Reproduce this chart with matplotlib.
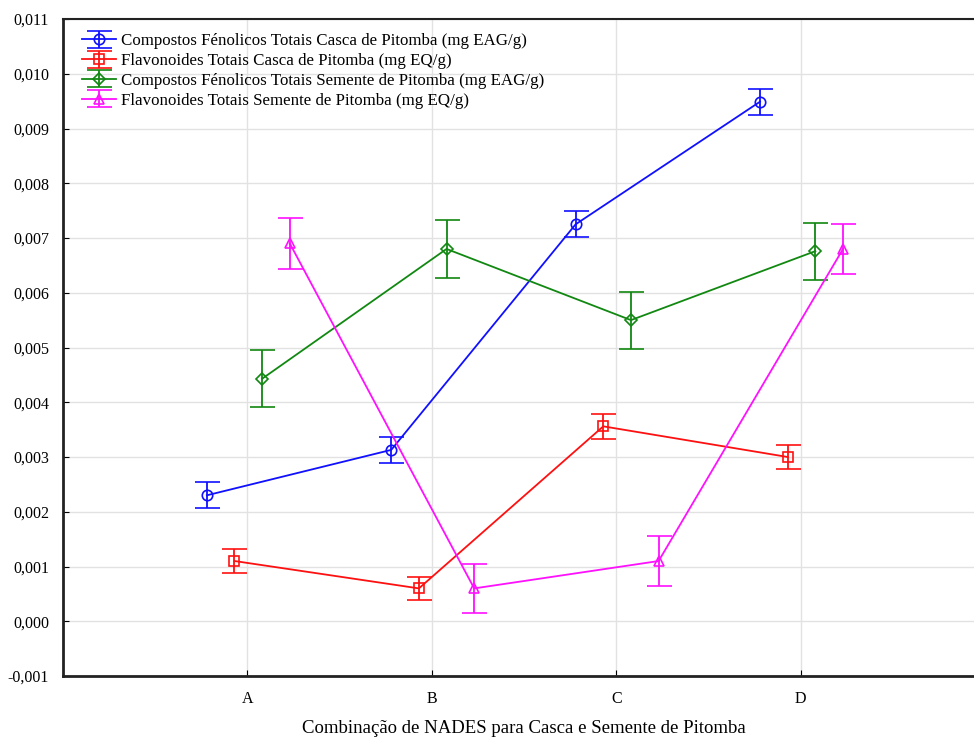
import numpy as np
import matplotlib
matplotlib.use("Agg")
from matplotlib import pyplot as plt
from matplotlib.ticker import FuncFormatter, MultipleLocator

plt.rcParams['font.family'] = ['Liberation Serif', 'DejaVu Serif']

categorias = ['A', 'B', 'C', 'D']

# valores médios e desvios
fen_casca = [0.00230, 0.00313, 0.00725, 0.00949]
fen_casca_err = [0.00024, 0.00024, 0.00024, 0.00024]
flav_casca = [0.00110, 0.00060, 0.00356, 0.00300]
flav_casca_err = [0.00022, 0.00021, 0.00023, 0.00022]
fen_semente = [0.00443, 0.00680, 0.00550, 0.00676]
fen_semente_err = [0.00052, 0.00053, 0.00052, 0.00052]
flav_semente = [0.00690, 0.00060, 0.00110, 0.00680]
flav_semente_err = [0.00046, 0.00045, 0.00045, 0.00046]

nomes = ['Compostos Fénolicos Totais Casca de Pitomba (mg EAG/g)',
         'Flavonoides Totais Casca de Pitomba (mg EQ/g)',
         'Compostos Fénolicos Totais Semente de Pitomba (mg EAG/g)',
         'Flavonoides Totais Semente de Pitomba (mg EQ/g)']
series = [fen_casca, flav_casca, fen_semente, flav_semente]
erros = [fen_casca_err, flav_casca_err, fen_semente_err, flav_semente_err]
cores = ['#1010ff', '#ff1010', '#118811', '#ff10ff']
marcadores = ['o', 's', 'D', '^']
tamanhos = [7.5, 7, 6, 7.5]
deslocamentos = [-0.22, -0.07, 0.08, 0.23]

fig = plt.figure(figsize=(9.74, 7.38), dpi=100)
ax = fig.add_axes([63 / 974, 1 - 676 / 738, (985 - 63) / 974, (676 - 19) / 738])

x = np.arange(1, len(categorias) + 1)
for y, e, c, m, s, d, n in zip(series, erros, cores, marcadores, tamanhos, deslocamentos, nomes):
    ax.errorbar(x + d, y, yerr=e, color=c, marker=m, markersize=s, markerfacecolor='none',
                markeredgewidth=1.2, linewidth=1.3, elinewidth=1.3, capsize=9, capthick=1.3,
                label=n)

ax.set_xlim(0, 5)
ax.set_ylim(-0.001, 0.011)
ax.set_xticks(x)
ax.set_xticklabels(categorias)
ax.yaxis.set_major_locator(MultipleLocator(0.001))
ax.yaxis.set_major_formatter(FuncFormatter(lambda v, p: f"{v:.3f}".replace('.', ',')))
ax.tick_params(direction='in', labelsize=11.5, length=4, pad=10)
ax.tick_params(axis='x', pad=11)
ax.grid(True, color='#e2e2e2', linewidth=1)
ax.set_axisbelow(True)

for lado in ['left', 'bottom']:
    ax.spines[lado].set_linewidth(2)
ax.spines['top'].set_linewidth(1.5)
ax.spines['right'].set_visible(False)
for sp in ax.spines.values():
    sp.set_color('#222222')

ax.set_xlabel('Combinação de NADES para Casca e Semente de Pitomba', fontsize=13.5, labelpad=9)

ax.legend(loc='upper left', bbox_to_anchor=(0.005, 1.0), frameon=False, fontsize=12.2,
          handlelength=2.0, handletextpad=0.3, labelspacing=0.22, borderaxespad=0.45)

fig.savefig('out.png', dpi=100)
